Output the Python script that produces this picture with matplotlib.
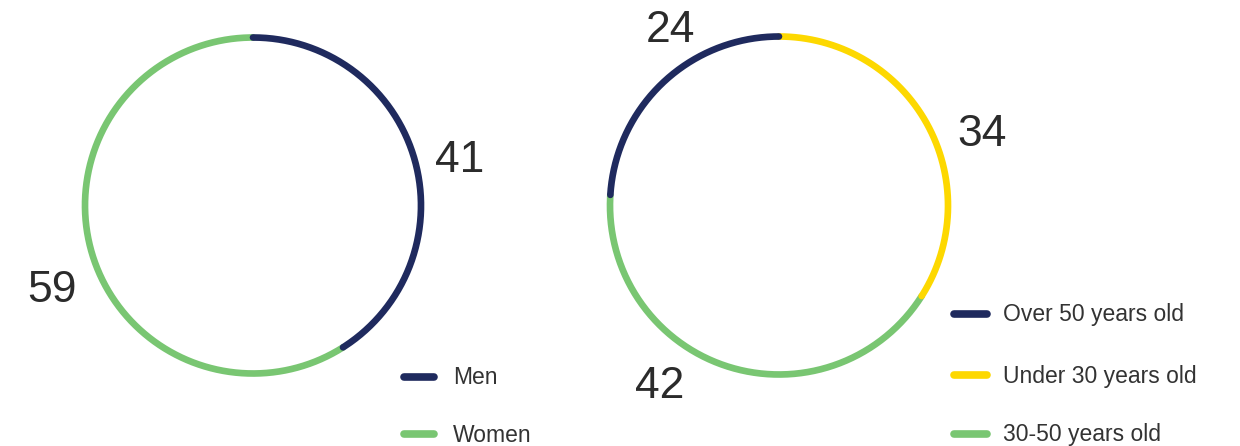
import numpy as np
import matplotlib
matplotlib.use("Agg")
import matplotlib.pyplot as plt

plt.rcParams['font.family'] = ['Liberation Sans', 'DejaVu Sans']

# datos
genero = ["Men", "Women"]
genero_valores = [41, 59]
genero_colores = ["#1f2a5e", "#79c672"]

edad = ["Under 30 years old", "30-50 years old", "Over 50 years old"]
edad_valores = [34, 42, 24]
edad_colores = ["#fdd800", "#79c672", "#1f2a5e"]
edad_leyenda = ["Over 50 years old", "Under 30 years old", "30-50 years old"]

fig = plt.figure(figsize=(12.4, 4.46), dpi=100)
ax = fig.add_axes([0, 0, 1, 1])
ax.set_xlim(0, 1240)
ax.set_ylim(446, 0)
ax.set_aspect('equal')
ax.axis('off')

grosor = 4.8
texto_num = "#2b2b2b"


def anillo(cx, cy, r, valores, colores, orden=None):
    total = sum(valores)
    inicio = 90.0
    arcos = []
    for v, c in zip(valores, colores):
        fin = inicio - v / total * 360
        t = np.radians(np.linspace(inicio, fin, 200))
        arcos.append((cx + r * np.cos(t), cy - r * np.sin(t), c))
        inicio = fin
    if orden is None:
        orden = range(len(arcos))
    for i in orden:
        xs, ys, c = arcos[i]
        ax.plot(xs, ys, color=c, lw=grosor, solid_capstyle='round')


def numero(x, y, valor):
    ax.text(x, y, str(valor), fontsize=32, color=texto_num,
            ha='center', va='center')


# anillo de la izquierda
anillo(253, 205.5, 168, genero_valores, genero_colores, orden=[1, 0])
numero(460, 161, genero_valores[0])
numero(52, 291, genero_valores[1])

# anillo de la derecha
anillo(779, 205.5, 169, edad_valores, edad_colores, orden=[1, 0, 2])
numero(982, 135, edad_valores[0])
numero(660, 386, edad_valores[1])
numero(670, 31, edad_valores[2])

# leyendas
leg_y = [377, 434]
for nombre, c, y in zip(genero, genero_colores, leg_y):
    ax.plot([404, 434], [y, y], color=c, lw=5.5, solid_capstyle='round')
    ax.text(453, y + 1, nombre, fontsize=16.5, color="#333333", va='center')

col_edad = dict(zip(edad, edad_colores))
leg_y2 = [314, 375, 434]
for nombre, y in zip(edad_leyenda, leg_y2):
    ax.plot([954, 987], [y, y], color=col_edad[nombre], lw=5.5,
            solid_capstyle='round')
    ax.text(1003, y + 1, nombre, fontsize=16.5, color="#333333", va='center')

fig.savefig("out.png", dpi=100)
